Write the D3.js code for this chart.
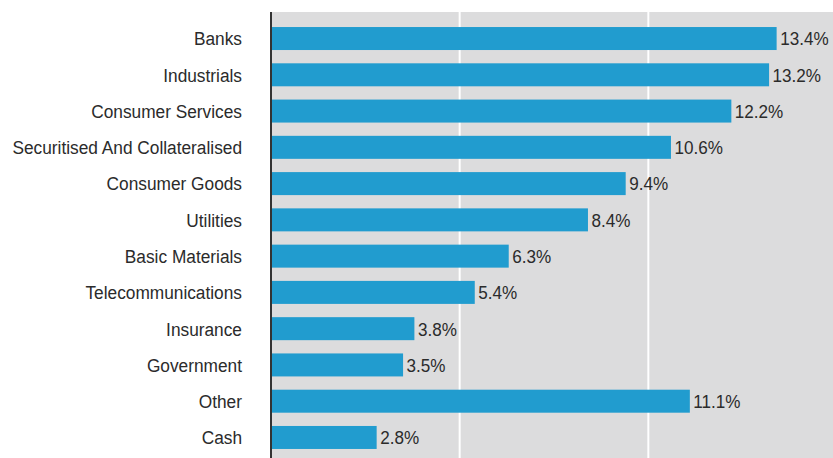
<!DOCTYPE html>
<html>
<head>
<meta charset="utf-8">
<script src="https://cdn.jsdelivr.net/npm/d3@7"></script>
<style>
body { margin: 0; background: #fff; }
</style>
</head>
<body>
<div id="app"></div>
<script>
const categories = ["Banks", "Industrials", "Consumer Services", "Securitised And Collateralised",
  "Consumer Goods", "Utilities", "Basic Materials", "Telecommunications", "Insurance",
  "Government", "Other", "Cash"]
const values = [13.4, 13.2, 12.2, 10.6, 9.4, 8.4, 6.3, 5.4, 3.8, 3.5, 11.1, 2.8]
const gridTicks = [5, 10]

const width = 833, height = 458
const font = "'Liberation Sans', Arial, sans-serif"
const svg = d3.select("#app").append("svg").attr("width", width).attr("height", height)
  .style("font-family", font)

const x = d3.scaleLinear().domain([0, 15]).range([271, 837])
const y = d3.scaleBand().domain(categories).range([20.4, 455.6]).paddingInner(0.366).paddingOuter(0.183)
const mid = c => y(c) + y.bandwidth() / 2

// plot background
svg.append("rect").attr("x", x(0)).attr("y", 12).attr("width", width - x(0)).attr("height", height - 12)
  .attr("fill", "#dcdcdd")

svg.selectAll(".grid").data(gridTicks).join("line")
  .attr("x1", d => x(d)).attr("x2", d => x(d)).attr("y1", 12).attr("y2", height)
  .attr("stroke", "#fff").attr("stroke-width", 2)

svg.selectAll(".bar").data(values).join("rect")
  .attr("x", x(0)).attr("y", (d, i) => y(categories[i]))
  .attr("width", d => x(d) - x(0)).attr("height", y.bandwidth())
  .attr("fill", "#219ccf")

// value labels, slightly condensed like the original
svg.selectAll(".val").data(values).join("text")
  .attr("transform", (d, i) => `translate(${x(d) + 3.5},${mid(categories[i])}) scale(0.9,1)`)
  .attr("dy", "0.36em").attr("font-size", 19).attr("fill", "#2b2b2b")
  .text(d => d.toFixed(1) + "%")

// category labels
svg.selectAll(".cat").data(categories).join("text")
  .attr("transform", d => `translate(242,${mid(d)}) scale(0.91,1)`)
  .attr("dy", "0.36em").attr("text-anchor", "end").attr("font-size", 19).attr("fill", "#2b2b2b")
  .text(d => d)

// axis line
svg.append("line").attr("x1", x(0)).attr("x2", x(0)).attr("y1", 12).attr("y2", height)
  .attr("stroke", "#333").attr("stroke-width", 2)
</script>
</body>
</html>
